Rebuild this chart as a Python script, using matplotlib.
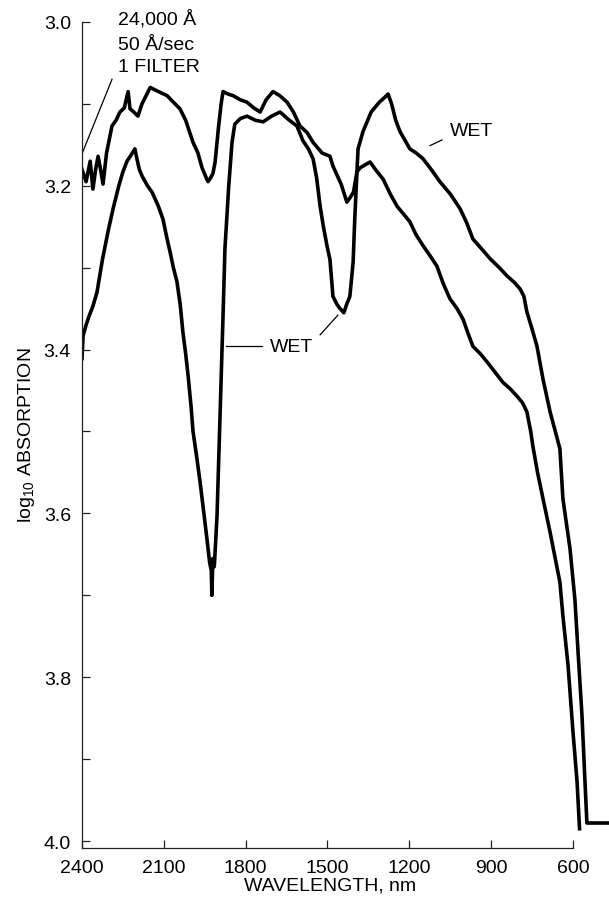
import numpy as np
import matplotlib
matplotlib.use("Agg")
import matplotlib.pyplot as plt

# (wavelength nm, log10 absorption)
upper_nm = [2400, 2385, 2370, 2360, 2350, 2341, 2332, 2323, 2310, 2290, 2275, 2261,
            2245, 2231, 2224, 2210, 2195, 2180, 2165, 2150, 2120, 2088, 2065, 2041,
            2020, 2005, 1993, 1975, 1960, 1945, 1938, 1928, 1920, 1912, 1900, 1890,
            1883, 1865, 1846, 1820, 1795, 1770, 1747, 1725, 1700, 1675, 1648, 1625,
            1601, 1575, 1553, 1520, 1491, 1480, 1450, 1429, 1418, 1405, 1392, 1388,
            1370, 1340, 1310, 1290, 1278, 1265, 1250, 1234, 1215, 1198, 1175, 1150,
            1120, 1088, 1050, 1014, 990, 967, 935, 904, 870, 842, 815, 794, 780, 769,
            750, 732, 710, 684, 648, 637, 611, 593, 582, 567, 556, 549, 540, 465]
upper_val = [3.18, 3.195, 3.17, 3.204, 3.18, 3.164, 3.18, 3.198, 3.16, 3.127, 3.12, 3.11,
             3.105, 3.085, 3.106, 3.11, 3.115, 3.10, 3.09, 3.08, 3.085, 3.09, 3.098, 3.106,
             3.12, 3.135, 3.147, 3.16, 3.178, 3.19, 3.195, 3.19, 3.185, 3.171, 3.13, 3.10,
             3.085, 3.088, 3.09, 3.095, 3.098, 3.105, 3.11, 3.095, 3.085, 3.09, 3.098, 3.11,
             3.127, 3.135, 3.147, 3.16, 3.164, 3.176, 3.198, 3.22, 3.215, 3.208, 3.183, 3.155,
             3.134, 3.11, 3.098, 3.092, 3.088, 3.10, 3.12, 3.134, 3.145, 3.155, 3.16, 3.167,
             3.18, 3.195, 3.21, 3.228, 3.245, 3.265, 3.277, 3.289, 3.30, 3.31, 3.318, 3.326, 3.335, 3.354,
             3.375, 3.396, 3.436, 3.476, 3.521, 3.582, 3.643, 3.705, 3.766, 3.847, 3.928, 3.978, 3.978, 3.978]

lower_nm = [2400, 2396, 2385, 2375, 2360, 2345, 2335, 2325, 2310, 2304, 2286, 2265,
            2250, 2235, 2225, 2206, 2200, 2190, 2180, 2160, 2143, 2120, 2103, 2088,
            2077, 2065, 2052, 2040, 2030, 2020, 2011, 2000, 1993, 1980, 1967, 1955,
            1942, 1932, 1926, 1924, 1920, 1915, 1905, 1894, 1883, 1876, 1862, 1850,
            1840, 1820, 1795, 1765, 1736, 1705, 1674, 1640, 1612, 1590, 1570, 1553,
            1540, 1527, 1515, 1502, 1491, 1480, 1465, 1454, 1440, 1430, 1418, 1406,
            1400, 1392, 1380, 1370, 1344, 1320, 1296, 1270, 1245, 1220, 1198, 1175,
            1150, 1125, 1099, 1075, 1051, 1025, 1003, 985, 967, 940, 915, 885, 857,
            830, 805, 785, 769, 755, 747, 730, 710, 684, 648, 637, 618, 600, 585, 576]
lower_val = [3.411, 3.383, 3.37, 3.36, 3.347, 3.33, 3.31, 3.29, 3.265, 3.255, 3.228, 3.20,
             3.183, 3.17, 3.165, 3.155, 3.165, 3.18, 3.188, 3.20, 3.208, 3.225, 3.241, 3.265,
             3.281, 3.30, 3.317, 3.345, 3.379, 3.405, 3.432, 3.47, 3.50, 3.53, 3.562, 3.595,
             3.631, 3.66, 3.67, 3.70, 3.655, 3.665, 3.603, 3.481, 3.359, 3.277, 3.20, 3.147,
             3.125, 3.118, 3.115, 3.12, 3.122, 3.115, 3.11, 3.12, 3.127, 3.145, 3.155, 3.167,
             3.19, 3.225, 3.25, 3.273, 3.29, 3.335, 3.345, 3.35, 3.355, 3.345, 3.335, 3.293,
             3.24, 3.183, 3.178, 3.176, 3.171, 3.182, 3.192, 3.21, 3.225, 3.235, 3.244, 3.26,
             3.273, 3.285, 3.298, 3.32, 3.338, 3.35, 3.363, 3.38, 3.396, 3.405, 3.415, 3.428, 3.44,
             3.448, 3.457, 3.465, 3.476, 3.50, 3.518, 3.55, 3.582, 3.623, 3.684, 3.725, 3.786, 3.867, 3.928, 3.985]

x_ticks = [2400, 2100, 1800, 1500, 1200, 900, 600]
y_ticks = [3.0, 3.2, 3.4, 3.6, 3.8, 4.0]
y_minor = [3.1, 3.3, 3.5, 3.7, 3.9]

FS = 14


def main():
    plt.rcParams['font.family'] = ['Liberation Sans', 'DejaVu Sans']
    plt.rcParams['mathtext.fontset'] = 'custom'
    plt.rcParams['mathtext.rm'] = 'Liberation Sans'

    W, H = 609, 903
    fig = plt.figure(figsize=(W / 100, H / 100), dpi=100)
    ax = fig.add_axes([82 / W, 1 - 849 / H, (W - 82) / W, 849 / H])

    ax.plot(upper_nm, upper_val, color='black', lw=2.6, solid_joinstyle='round')
    ax.plot(lower_nm, lower_val, color='black', lw=2.6, solid_joinstyle='round')

    ax.set_xlim(2400, 468)
    ax.set_ylim(4.0085, 2.972)

    for s in ['top', 'right']:
        ax.spines[s].set_visible(False)
    ax.spines['left'].set_bounds(3.0, 4.0085)
    ax.spines['bottom'].set_bounds(600, 2400)
    for s in ['left', 'bottom']:
        ax.spines[s].set_linewidth(0.9)
        ax.spines[s].set_color('#222222')

    ax.set_xticks(x_ticks)
    ax.set_xticklabels([str(t) for t in x_ticks])
    ax.set_yticks(y_ticks)
    ax.set_yticklabels(['%.1f' % t for t in y_ticks])
    ax.set_yticks(y_minor, minor=True)
    ax.tick_params(axis='both', which='both', direction='in', length=6, width=0.9,
                   color='#222222', labelsize=FS, pad=8)

    # annotations
    ax.plot([2400, 2290], [3.161, 3.070], color='black', lw=0.9)
    ax.text(2268, 2.996, '24,000 Å', fontsize=FS, va='center', ha='left')
    ax.text(2268, 3.027, '50 Å/sec', fontsize=FS, va='center', ha='left')
    ax.text(2268, 3.055, '1 FILTER', fontsize=FS, va='center', ha='left')

    ax.text(1711, 3.396, 'WET', fontsize=FS, va='center', ha='left')
    ax.plot([1872, 1740], [3.396, 3.396], color='black', lw=0.9)
    ax.plot([1527, 1462], [3.382, 3.358], color='black', lw=0.9)

    ax.text(1051, 3.133, 'WET', fontsize=FS, va='center', ha='left')
    ax.plot([1124, 1080], [3.151, 3.144], color='black', lw=0.9)

    fig.text(330 / W, 1 - 886 / H, 'WAVELENGTH, nm', fontsize=FS, ha='center', va='center')
    fig.text(27 / W, 1 - 435 / H, 'log$_{10}$ ABSORPTION', fontsize=FS, ha='center',
             va='center', rotation=90)

    fig.savefig('out.png', dpi=100, facecolor='white')


if __name__ == "__main__":
    main()
